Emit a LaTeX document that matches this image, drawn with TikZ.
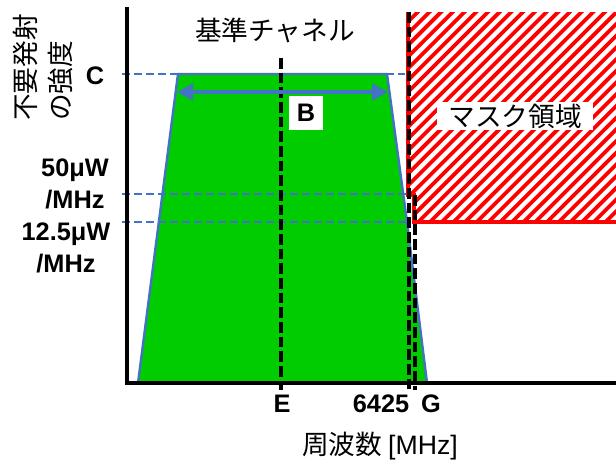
\documentclass[tikz,border=0pt]{standalone}
\usepackage{fontspec}
\setmainfont{Liberation Sans}
\newfontfamily\jpfont{Noto Sans CJK JP}
\usetikzlibrary{arrows.meta}

\definecolor{bandgreen}{RGB}{0,204,0}
\definecolor{edgeblue}{RGB}{68,114,196}
\definecolor{maskred}{RGB}{255,0,0}

\tikzset{
  lbl/.style={font=\fontsize{19}{24}\selectfont\bfseries, inner sep=0pt},
  jp/.style={font=\fontsize{20}{26}\selectfont\jpfont, inner sep=0pt},
  level/.style={draw=edgeblue, line width=1.5pt, dash pattern=on 6pt off 3pt},
  marker/.style={draw=black, line width=2.4pt, dash pattern=on 8pt off 3pt},
  axisline/.style={draw=black, line width=3.4pt},
  hatch/.style={maskred, line width=2.8pt}
}

\begin{document}
\begin{tikzpicture}[x=0.75pt,y=-0.75pt]
\useasboundingbox (0,0) rectangle (616,462);

% corners and line ends
\coordinate(ytop) at (127,7);
\coordinate(ybot) at (127,385);
\coordinate(xbeg) at (125,383);
\coordinate(xend) at (616,383);
\coordinate(bl)  at (138,383);
\coordinate(tl)  at (178,74);
\coordinate(tr)  at (387,74);
\coordinate(kr)  at (407,222);
\coordinate(br)  at (427,383);
\coordinate(m0)  at (408,12);
\coordinate(m1)  at (408,195);
\coordinate(m2)  at (414,195);
\coordinate(m3)  at (414,222);
\coordinate(m4)  at (616,222);
\coordinate(m5)  at (616,12);

% mask region
\begin{scope}
\clip (m0) -- (m5) -- (m4) -- (m3) -- (m2) -- (m1) -- cycle;
\foreach \k in {0,...,37}
  \draw[hatch] ({190+11.7*\k},228) -- ++(230,-230);
\end{scope}
\draw[maskred, line width=3pt] (m0) -- (m1) -- (m2) -- (m3) -- (m4);

% band
\fill[bandgreen] (bl) -- (tl) -- (tr) -- (kr) -- (br) -- cycle;
\draw[edgeblue, line width=1.8pt] (bl) -- (tl) -- (tr) -- (kr) -- (br);

% levels
\coordinate(lc0) at (122,74);  \coordinate(lc1) at (405,74);
\coordinate(la0) at (122,194); \coordinate(la1) at (406,194);
\coordinate(lb0) at (122,222); \coordinate(lb1) at (410,222);
\path[level] (lc0) edge (lc1) (la0) edge (la1) (lb0) edge (lb1);

% frequency markers
\coordinate(e0) at (281,58);  \coordinate(e1) at (281,390);
\coordinate(f0) at (409,12);  \coordinate(f1) at (409,390);
\coordinate(g0) at (415,195); \coordinate(g1) at (415,390);
\path[marker] (e0) edge (e1) (f0) edge (f1) (g0) edge (g1);

% bandwidth
\coordinate(b0) at (177,92);
\coordinate(b1) at (388,92);
\draw[edgeblue, line width=3pt, {Triangle[length=12pt,width=12pt]}-{Triangle[length=12pt,width=12pt]}] (b0) -- (b1);
\node(B) at (306,113)[lbl, fill=white, minimum width=26pt, minimum height=25pt]{B};

% axes
\draw[axisline] (ytop) -- (ybot);
\draw[axisline] (xbeg) -- (xend);

% labels
\node(ylab) at (13,121)[jp, rotate=90, anchor=north west, align=left]{不要発射\\の強度};
\node(ch)   at (275,30)[jp]{基準チャネル};
\node(mask) at (515,116)[jp, fill=white, minimum width=117pt, minimum height=21pt]{マスク領域};
\node(C)    at (95,76)[lbl]{C};
\node(p50)  at (75,184)[lbl, align=center]{50μW\\/MHz};
\node(p125) at (66,248)[lbl, align=center]{12.5μW\\/MHz};
\node(E)    at (282,404)[lbl]{E};
\node(f)    at (381,404)[lbl]{6425};
\node(G)    at (431,404)[lbl]{G};
\node(xlab) at (380,446)[jp]{周波数 {\normalfont [MHz]}};

\end{tikzpicture}
\end{document}
